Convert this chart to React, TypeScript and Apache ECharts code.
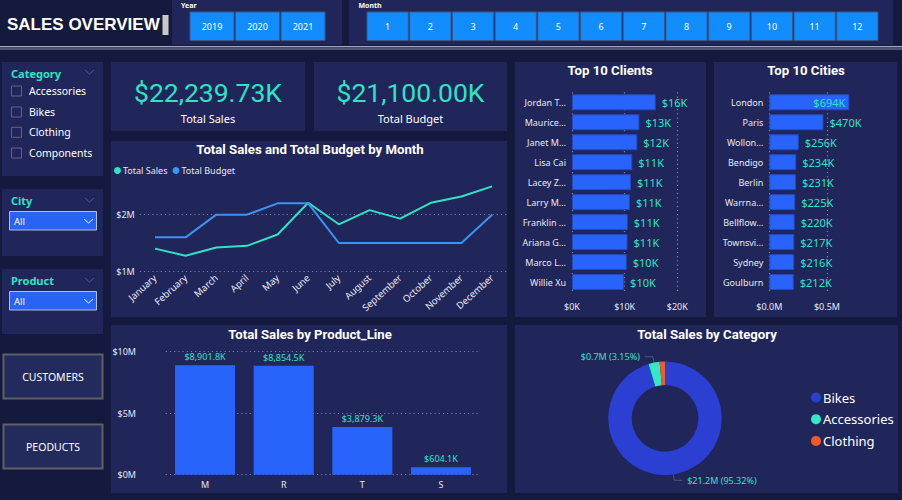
import React, { useEffect, useRef } from "react";
import * as echarts from "echarts";

// ---------- data ----------
const years = ["2019", "2020", "2021"];
const months = ["1", "2", "3", "4", "5", "6", "7", "8", "9", "10", "11", "12"];
const categoryFilters = ["Accessories", "Bikes", "Clothing", "Components"];
const navButtons = ["CUSTOMERS", "PEODUCTS"];
const kpiLabels = ["Total Sales", "Total Budget"];
const kpiValues = ["$22,239.73K", "$21,100.00K"];

const monthNames = [
  "January", "February", "March", "April", "May", "June",
  "July", "August", "September", "October", "November", "December",
];
const totalSales = [1400000, 1275000, 1420000, 1450000, 1650000, 2210000, 1830000, 2080000, 1930000, 2210000, 2320000, 2500000];
const totalBudget = [1600000, 1600000, 2000000, 2000000, 2200000, 2200000, 1500000, 1500000, 1500000, 1500000, 1500000, 2000000];

const clientNames = ["Jordan T…", "Maurice…", "Janet M…", "Lisa Cai", "Lacey Z…", "Larry M…", "Franklin …", "Ariana G…", "Marco L…", "Willie Xu"];
const clientSales = [15900, 12800, 12400, 11450, 11200, 11000, 10600, 10550, 10400, 9900];

const cityNames = ["London", "Paris", "Wollon…", "Bendigo", "Berlin", "Warrna…", "Bellflow…", "Townsvi…", "Sydney", "Goulburn"];
const citySales = [694000, 470000, 256000, 234000, 231000, 225000, 220000, 217000, 216000, 212000];

const productLines = ["M", "R", "T", "S"];
const productSales = [8901800, 8854500, 3879300, 604100];

const categories = ["Bikes", "Accessories", "Clothing"];
const categorySales = [21198900, 700600, 340200];

// ---------- styles ----------
const BG = "#141a3d";
const PANEL = "#21265a";
const TEAL = "#2fe3c3";
const BAR = "#2864fb";
const GRIDC = "#7a80a8";
const FONT = "'Noto Sans', 'Open Sans', sans-serif";
const TFONT = "Roboto, 'Noto Sans', sans-serif";
const PIE_COLORS = ["#2b3fd2", "#33e8c4", "#f05a2a"];

function txt(text: string, x: number, y: number, o: any = {}) {
  const align = o.align || "left";
  return {
    type: "text",
    x,
    y,
    z: o.z ?? 50,
    silent: true,
    style: {
      text,
      fill: o.fill || "#ffffff",
      fontSize: o.size || 11,
      fontFamily: o.family || FONT,
      fontWeight: o.weight || "normal",
      align,
      textAlign: align,
      verticalAlign: "middle",
      textVerticalAlign: "middle",
    },
  };
}

function rect(x: number, y: number, w: number, h: number, fill: string, o: any = {}) {
  return {
    type: "rect",
    z: o.z ?? -5,
    silent: true,
    shape: { x, y, width: w, height: h },
    style: { fill, stroke: o.stroke || null, lineWidth: o.lw || 0 },
  };
}

function chevron(x: number, y: number, color: string) {
  return {
    type: "polyline",
    z: 50,
    silent: true,
    shape: { points: [[x, y], [x + 4.5, y + 4], [x + 9, y]] },
    style: { stroke: color, lineWidth: 1, fill: null },
  };
}

const TITLE = 13.2;

function buildGraphic() {
  const g: any[] = [];
  // header
  g.push(txt("SALES OVERVIEW", 7, 24, { size: 17, weight: "bold", family: "'Liberation Sans', Arial, sans-serif" }));
  g.push(rect(162.5, 15, 6, 20, "#c8c8c8", { z: 10 }));
  g.push(rect(172, 0, 170, 45, PANEL));
  g.push(rect(349, 0, 544, 45, PANEL));
  g.push(txt("Year", 181, 5.5, { size: 7, weight: "bold" }));
  g.push(txt("Month", 358.5, 5.5, { size: 7, weight: "bold" }));
  years.forEach((yr, i) => {
    const x = 190 + i * 45.5;
    g.push(rect(x, 12, 44, 28.5, "#118dff", { stroke: "#3b5680", lw: 1, z: 1 }));
    g.push(txt(yr, x + 22, 26.5, { size: 9, align: "center" }));
  });
  months.forEach((m, i) => {
    const x = 367 + i * 42.7;
    g.push(rect(x, 12, 41.3, 28.5, "#118dff", { stroke: "#3b5680", lw: 1, z: 1 }));
    g.push(txt(m, x + 20.6, 26.5, { size: 9, align: "center" }));
  });
  g.push(rect(0, 46.2, 902, 1, "#d6d9e4", { z: 1 }));
  g.push(rect(0, 48.4, 902, 1, "#8a90ab", { z: 1 }));

  // left filter panels
  g.push(rect(2, 62, 101, 114, PANEL));
  g.push(txt("Category", 11, 73, { fill: TEAL, size: 11, weight: "bold" }));
  g.push(chevron(85, 70, "#555b80"));
  categoryFilters.forEach((c, i) => {
    const cy = [91, 112, 132.3, 153][i];
    g.push(rect(11.5, cy - 5, 10, 10, "rgba(0,0,0,0)", { stroke: "#6d5f7a", lw: 1, z: 1 }));
    g.push(txt(c, 29, cy, { size: 10.5 }));
  });

  g.push(rect(2, 189, 101, 67, PANEL));
  g.push(txt("City", 11, 200.5, { fill: TEAL, size: 11, weight: "bold" }));
  g.push(chevron(85, 198, "#555b80"));
  g.push(rect(9.5, 211.5, 87, 18.5, "#2a62f4", { stroke: "#b3bce6", lw: 1, z: 1 }));
  g.push(txt("All", 14, 221, { size: 9.5 }));
  g.push(chevron(84, 219, "#ffffff"));

  g.push(rect(2, 269, 101, 65, PANEL));
  g.push(txt("Product", 11, 280.5, { fill: TEAL, size: 11, weight: "bold" }));
  g.push(chevron(85, 278, "#555b80"));
  g.push(rect(9.5, 291.5, 87, 18.5, "#2a62f4", { stroke: "#b3bce6", lw: 1, z: 1 }));
  g.push(txt("All", 14, 301, { size: 9.5 }));
  g.push(chevron(84, 299, "#ffffff"));

  navButtons.forEach((b, i) => {
    const y = [354.5, 424.5][i];
    g.push(rect(3.5, y, 99, 44, "#232a5c", { stroke: "#5e5f68", lw: 2 }));
    g.push(txt(b, 53, y + 22.5, { size: 10.5, align: "center" }));
  });

  // KPI cards
  [[111, 194], [314, 193]].forEach(([x, w], i) => {
    g.push(rect(x, 62, w, 69, PANEL));
    g.push(txt(kpiValues[i], x + w / 2, 92.5, { fill: TEAL, size: 26.5, family: TFONT, align: "center" }));
    g.push(txt(kpiLabels[i], x + w / 2, 118.3, { size: 11, align: "center" }));
  });

  // chart panels
  g.push(rect(111, 141, 396, 176, PANEL));
  g.push(txt("Total Sales and Total Budget by Month", 310, 149.5, { size: TITLE, weight: "bold", family: TFONT, align: "center" }));
  g.push(rect(515, 62, 191, 255, PANEL));
  g.push(txt("Top 10 Clients", 610, 70.7, { size: TITLE, weight: "bold", family: TFONT, align: "center" }));
  g.push(rect(714, 62, 183, 255, PANEL));
  g.push(txt("Top 10 Cities", 806, 70.7, { size: TITLE, weight: "bold", family: TFONT, align: "center" }));
  g.push(rect(111, 325, 396, 168, PANEL));
  g.push(txt("Total Sales by Product_Line", 310, 334.3, { size: TITLE, weight: "bold", family: TFONT, align: "center" }));
  g.push(rect(515, 325, 383, 168, PANEL));
  g.push(txt("Total Sales by Category", 707, 334.3, { size: TITLE, weight: "bold", family: TFONT, align: "center" }));
  return g;
}

const axisLabelBase = { color: "#e6e8f2", fontSize: 9, fontFamily: FONT };
const dotted = (color: any) => ({ show: true, lineStyle: { type: [1.2, 3], color, width: 1.2 } });

export default function App() {
  const ref = useRef<HTMLDivElement>(null);
  useEffect(() => {
    document.body.style.margin = "0";
    document.body.style.background = BG;
    const chart = echarts.init(ref.current!, null, { renderer: "svg" });
    const k = (v: number) => "$" + Math.round(v / 1000) + "K";
    chart.setOption({
      animation: false,
      backgroundColor: BG,
      textStyle: { fontFamily: FONT },
      graphic: buildGraphic(),
      legend: [
        {
          data: ["Total Sales", "Total Budget"],
          left: 114,
          top: 166,
          icon: "circle",
          itemWidth: 7,
          itemHeight: 7,
          itemGap: 5,
          padding: 0,
          textStyle: { color: "#e6e8f2", fontSize: 9, padding: [0, 0, 0, -3] },
        },
        {
          data: categories,
          orient: "vertical",
          left: 811,
          top: 391,
          icon: "circle",
          itemWidth: 10,
          itemHeight: 10,
          itemGap: 8.7,
          padding: 0,
          textStyle: { color: "#ffffff", fontSize: 13, padding: [0, 0, 0, -3] },
        },
      ],
      grid: [
        { left: 139.7, width: 367.7, top: 180.7, bottom: 228.7 },
        { left: 572, right: 224.7, top: 92.3, bottom: 208 },
        { left: 769.3, width: 86.5, top: 92.3, bottom: 208 },
        { left: 165.7, right: 421.7, top: 351.7, bottom: 25.3 },
      ],
      xAxis: [
        {
          gridIndex: 0,
          type: "category",
          data: monthNames,
          axisLine: { show: false },
          axisTick: { show: false },
          axisLabel: { ...axisLabelBase, fontSize: 9.5, rotate: 42, interval: 0, margin: 5 },
        },
        {
          gridIndex: 1,
          type: "value",
          min: 0,
          max: 20000,
          interval: 10000,
          axisLabel: { ...axisLabelBase, margin: 10, formatter: (v: number) => "$" + v / 1000 + "K" },
          splitLine: dotted(GRIDC),
        },
        {
          gridIndex: 2,
          type: "value",
          min: 0,
          max: 750000,
          interval: 250000,
          axisLabel: {
            ...axisLabelBase,
            margin: 10,
            formatter: (v: number) => (v === 0 ? "$0.0M" : v === 500000 ? "$0.5M" : ""),
          },
          splitLine: dotted([GRIDC, "rgba(0,0,0,0)"]),
        },
        {
          gridIndex: 3,
          type: "category",
          data: productLines,
          axisLine: { show: false },
          axisTick: { show: false },
          axisLabel: { ...axisLabelBase, margin: 5 },
        },
      ],
      yAxis: [
        {
          gridIndex: 0,
          type: "value",
          min: 1000000,
          max: 2600000,
          interval: 1000000,
          axisLabel: {
            ...axisLabelBase,
            margin: 5,
            formatter: (v: number) => (v === 1000000 ? "$1M" : v === 2000000 ? "$2M" : ""),
          },
          splitLine: dotted([GRIDC, GRIDC, "rgba(0,0,0,0)"]),
        },
        {
          gridIndex: 1,
          type: "category",
          data: clientNames,
          inverse: true,
          axisLine: { show: false },
          axisTick: { show: false },
          axisLabel: { ...axisLabelBase, margin: 6 },
        },
        {
          gridIndex: 2,
          type: "category",
          data: cityNames,
          inverse: true,
          axisLine: { show: false },
          axisTick: { show: false },
          axisLabel: { ...axisLabelBase, margin: 6 },
        },
        {
          gridIndex: 3,
          type: "value",
          min: 0,
          max: 10000000,
          interval: 5000000,
          axisLabel: { ...axisLabelBase, margin: 29.7, formatter: (v: number) => "$" + v / 1000000 + "M" },
          splitLine: dotted(GRIDC),
        },
      ],
      series: [
        {
          name: "Total Sales",
          type: "line",
          xAxisIndex: 0,
          yAxisIndex: 0,
          data: totalSales,
          color: TEAL,
          showSymbol: false,
          symbol: "circle",
          lineStyle: { width: 2, color: TEAL },
        },
        {
          name: "Total Budget",
          type: "line",
          xAxisIndex: 0,
          yAxisIndex: 0,
          data: totalBudget,
          color: "#3b93f3",
          showSymbol: false,
          symbol: "circle",
          lineStyle: { width: 2, color: "#3b93f3" },
        },
        {
          type: "bar",
          xAxisIndex: 1,
          yAxisIndex: 1,
          data: clientSales,
          barCategoryGap: "20%",
          itemStyle: { color: BAR, borderColor: "#2349c0", borderWidth: 1 },
          label: {
            show: true,
            position: "right",
            distance: 6,
            color: TEAL,
            fontSize: 11,
            fontFamily: FONT,
            formatter: (p: any) => k(p.value),
          },
        },
        {
          type: "bar",
          xAxisIndex: 2,
          yAxisIndex: 2,
          data: citySales.map((v, i) => (i === 0 ? { value: v, label: { position: "insideRight", distance: 4 } } : v)),
          barCategoryGap: "20%",
          itemStyle: { color: BAR, borderColor: "#2349c0", borderWidth: 1 },
          label: {
            show: true,
            position: "right",
            distance: 6,
            color: TEAL,
            fontSize: 11,
            fontFamily: FONT,
            formatter: (p: any) => k(p.value),
          },
        },
        {
          type: "bar",
          xAxisIndex: 3,
          yAxisIndex: 3,
          data: productSales,
          barWidth: 60,
          itemStyle: { color: BAR },
          label: {
            show: true,
            position: "top",
            distance: 4,
            color: TEAL,
            fontSize: 9,
            fontFamily: FONT,
            formatter: (p: any) =>
              "$" + (p.value / 1000).toLocaleString("en-US", { minimumFractionDigits: 1, maximumFractionDigits: 1 }) + "K",
          },
        },
        {
          type: "pie",
          center: [665, 418.3],
          radius: [33.3, 56.7],
          startAngle: 90,
          clockwise: true,
          avoidLabelOverlap: false,
          color: PIE_COLORS,
          data: categories.map((c, i) => ({
            name: c,
            value: categorySales[i],
            label: { show: i < 2 },
            labelLine: { show: i < 2 },
          })),
          label: {
            show: true,
            position: "outside",
            color: TEAL,
            fontSize: 9,
            fontFamily: FONT,
            formatter: (p: any) => "$" + (p.value / 1000000).toFixed(1) + "M (" + p.percent.toFixed(2) + "%)",
          },
          labelLine: { length: 6, length2: 8, lineStyle: { color: "#3e5f73", width: 1 } },
        },
      ],
    });
    return () => chart.dispose();
  }, []);
  return <div ref={ref} style={{ position: "absolute", left: 0, top: 0, width: 902, height: 500 }} />;
}
